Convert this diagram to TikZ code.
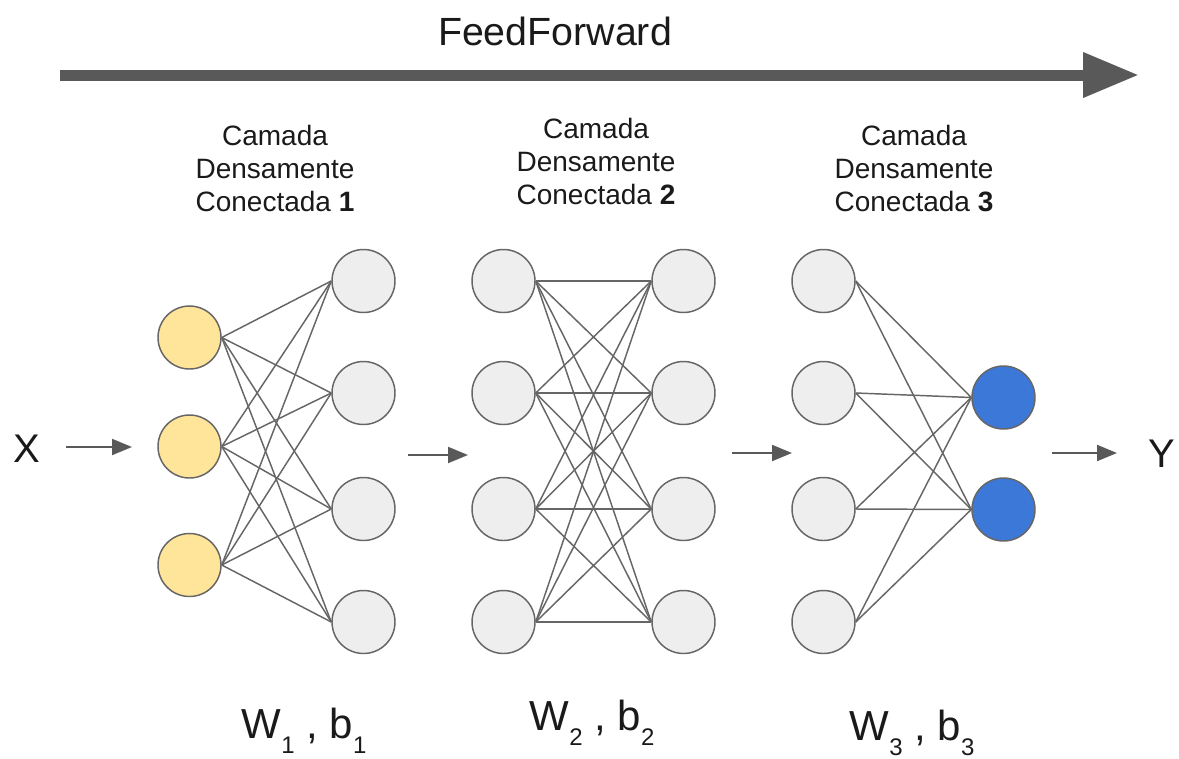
\documentclass[tikz,border=0pt]{standalone}
\usepackage{fontspec}
\setmainfont{Liberation Sans}
\usetikzlibrary{arrows.meta}
\definecolor{edgec}{HTML}{666666}
\definecolor{arrowc}{HTML}{595959}
\definecolor{yellowc}{HTML}{FFE599}
\definecolor{grayc}{HTML}{EEEEEE}
\definecolor{bluec}{HTML}{3C78D8}
\definecolor{textc}{HTML}{1A1A1A}
\newcommand\wsub[1]{\raisebox{-11.25pt}{\fontsize{18}{20}\selectfont #1}}
\begin{document}
\begin{tikzpicture}[x=0.75pt,y=-0.75pt,
  neuron/.style={circle, draw=edgec, line width=1.1pt, minimum size=47.25pt, inner sep=0pt},
  yneuron/.style={neuron, fill=yellowc},
  gneuron/.style={neuron, fill=grayc},
  bneuron/.style={neuron, fill=bluec},
  link/.style={draw=edgec, line width=1.1pt},
  flow/.style={draw=arrowc, line width=1.5pt, -{Triangle[length=15pt,width=12pt]}},
  bigflow/.style={draw=arrowc, line width=8.25pt, -{Triangle[length=42pt,width=32pt]}},
  layertext/.style={font=\fontsize{21}{24.75}\selectfont, align=center, inner sep=0pt, anchor=north, text=textc},
  wtext/.style={font=\fontsize{31.5}{36}\selectfont, inner sep=0pt, anchor=base, text=textc},
  iotext/.style={font=\fontsize{30}{36}\selectfont, inner sep=0pt, anchor=base, text=textc}]
\useasboundingbox (0,0) rectangle (1179,758);

% title and big arrow
\node[font=\fontsize{29.5}{35}\selectfont, inner sep=0pt, anchor=base, text=textc] (title) at (555,45) {FeedForward};
\coordinate (fs) at (60,75);
\coordinate (fe) at (1139,75);
\draw[bigflow] (fs) -- (fe);

% layer captions
\node[layertext] (t1) at (275,125) {Camada\\Densamente\\Conectada \textbf{1}};
\node[layertext] (t2) at (596,118) {Camada\\Densamente\\Conectada \textbf{2}};
\node[layertext] (t3) at (914,125) {Camada\\Densamente\\Conectada \textbf{3}};

% neurons
\foreach \y [count=\i] in {337.5,446.5,565}
  \node[yneuron] (a\i) at (189.5,\y) {};
\foreach \y [count=\i] in {281,393,509,622} {
  \node[gneuron] (b\i) at (363.5,\y) {};
  \node[gneuron] (c\i) at (503.5,\y) {};
  \node[gneuron] (d\i) at (683.5,\y) {};
  \node[gneuron] (e\i) at (823.5,\y) {};
}
\node[bneuron] (f1) at (1003.5,397.5) {};
\node[bneuron] (f2) at (1003.5,509.5) {};

% connections
\foreach \i in {1,2,3}
  \foreach \j in {1,2,3,4}
    \draw[link] (a\i.east) -- (b\j.west);
\foreach \i in {1,2,3,4}
  \foreach \j in {1,2,3,4}
    \draw[link] (c\i.east) -- (d\j.west);
\foreach \i in {1,2,3,4}
  \foreach \j in {1,2}
    \draw[link] (e\i.east) -- (f\j.west);

% input / output and flow arrows
\node[iotext] (X) at (27,462) {X};
\node[iotext] (Y) at (1162,467) {Y};
\coordinate (x0) at (66,447);   \coordinate (x1) at (132,447);
\coordinate (m0) at (408,455);  \coordinate (m1) at (468,455);
\coordinate (n0) at (732,453);  \coordinate (n1) at (792,453);
\coordinate (y0) at (1052,453); \coordinate (y1) at (1117,453);
\draw[flow] (x0) -- (x1);
\draw[flow] (m0) -- (m1);
\draw[flow] (n0) -- (n1);
\draw[flow] (y0) -- (y1);

% weights
\node[wtext] (w1) at (304,738) {W\wsub{1} , b\wsub{1}};
\node[wtext] (w2) at (592,730) {W\wsub{2} , b\wsub{2}};
\node[wtext] (w3) at (912,740) {W\wsub{3} , b\wsub{3}};
\end{tikzpicture}
\end{document}
